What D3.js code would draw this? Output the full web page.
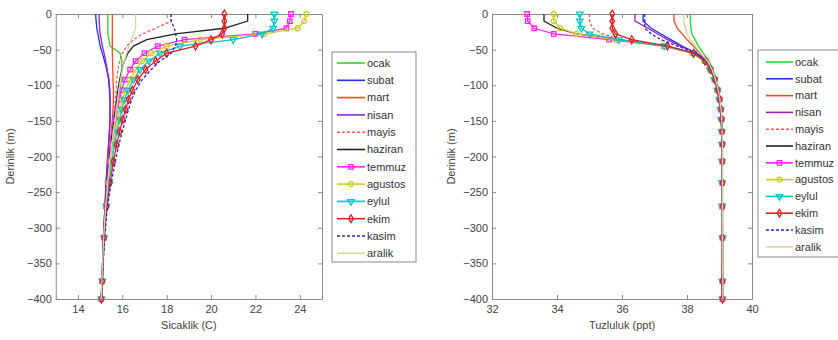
<!DOCTYPE html>
<html>
<head>
<meta charset="utf-8">
<script src="https://cdn.jsdelivr.net/npm/d3@7"></script>
<style>
  body { margin: 0; background: #fff; }
  text { font-family: "Liberation Sans", Arial, sans-serif; }
</style>
</head>
<body>
<div id="chart"></div>
<script>
// month names (legend order)
const months = ["ocak", "subat", "mart", "nisan", "mayis", "haziran", "temmuz", "agustos", "eylul", "ekim", "kasim", "aralik"];

// depth levels (m)
const depths = [0, -10, -20, -28, -36, -45, -55, -66, -78, -92, -107, -120, -134, -148, -165, -183, -207, -237, -270, -314, -375, -400];

// temperature (C) per month, one value per depth level
const tOcak    = [15.35, 15.35, 15.35, 15.35, 15.4, 15.45, 15.9, 15.98, 15.98, 15.95, 15.9, 15.84, 15.78, 15.72, 15.62, 15.52, 15.43, 15.34, 15.26, 15.17, 15.1, 15.06];
const tSubat   = [14.8, 14.82, 14.85, 14.9, 14.95, 15.0, 15.1, 15.2, 15.3, 15.38, 15.42, 15.44, 15.45, 15.45, 15.42, 15.38, 15.33, 15.27, 15.22, 15.15, 15.08, 15.05];
const tMart    = [15.55, 15.55, 15.55, 15.55, 15.55, 15.55, 15.55, 15.56, 15.57, 15.58, 15.6, 15.6, 15.58, 15.55, 15.5, 15.45, 15.38, 15.3, 15.22, 15.15, 15.08, 15.05];
const tNisan   = [14.95, 14.96, 14.98, 15.0, 15.05, 15.1, 15.18, 15.25, 15.32, 15.4, 15.44, 15.45, 15.45, 15.44, 15.42, 15.38, 15.33, 15.27, 15.22, 15.15, 15.08, 15.05];
const tMayis   = [18.2, 18.2, 17.5, 16.9, 16.5, 16.2, 16.0, 15.88, 15.8, 15.75, 15.72, 15.69, 15.65, 15.6, 15.55, 15.48, 15.4, 15.32, 15.24, 15.16, 15.09, 15.05];
const tHaziran = [21.65, 21.65, 20.6, 18.4, 17.1, 16.5, 16.25, 16.1, 15.98, 15.88, 15.8, 15.74, 15.68, 15.62, 15.55, 15.48, 15.4, 15.32, 15.24, 15.16, 15.09, 15.05];
const tTemmuz  = [23.6, 23.55, 23.4, 22.0, 18.8, 17.6, 17.0, 16.6, 16.35, 16.12, 15.97, 15.87, 15.78, 15.7, 15.62, 15.52, 15.43, 15.34, 15.26, 15.17, 15.09, 15.05];
const tAgustos = [24.3, 24.2, 23.9, 22.4, 19.5, 18.0, 17.3, 16.9, 16.6, 16.35, 16.15, 16.0, 15.9, 15.8, 15.7, 15.6, 15.5, 15.38, 15.28, 15.18, 15.1, 15.07];
const tEylul   = [22.85, 22.85, 22.8, 22.3, 21.0, 18.6, 17.7, 17.2, 16.8, 16.5, 16.25, 16.1, 15.98, 15.88, 15.76, 15.65, 15.53, 15.4, 15.28, 15.18, 15.1, 15.06];
const tEkim    = [20.6, 20.6, 20.6, 20.5, 20.0, 19.3, 18.0, 17.5, 17.05, 16.7, 16.45, 16.28, 16.15, 16.02, 15.88, 15.75, 15.6, 15.45, 15.3, 15.18, 15.1, 15.06];
const tKasim   = [18.2, 18.2, 18.35, 18.4, 18.45, 18.4, 18.2, 17.7, 17.3, 16.9, 16.6, 16.42, 16.28, 16.15, 16.0, 15.85, 15.68, 15.5, 15.33, 15.2, 15.1, 15.06];
const tAralik  = [16.6, 16.6, 16.6, 16.5, 16.4, 16.3, 16.2, 16.1, 16.0, 15.92, 15.85, 15.8, 15.74, 15.68, 15.6, 15.52, 15.43, 15.34, 15.25, 15.16, 15.08, 15.05];

// salinity (ppt) per month, one value per depth level
const sOcak    = [38.1, 38.1, 38.12, 38.15, 38.25, 38.35, 38.5, 38.68, 38.8, 38.9, 38.97, 39.02, 39.05, 39.07, 39.08, 39.09, 39.09, 39.09, 39.09, 39.09, 39.1, 39.1];
const sSubat   = [36.65, 36.65, 36.9, 37.2, 37.5, 37.85, 38.3, 38.6, 38.74, 38.86, 38.94, 39.0, 39.04, 39.06, 39.07, 39.08, 39.08, 39.08, 39.09, 39.09, 39.09, 39.09];
const sMart    = [37.6, 37.6, 37.7, 37.85, 38.0, 38.2, 38.4, 38.62, 38.76, 38.87, 38.95, 39.0, 39.04, 39.06, 39.07, 39.08, 39.08, 39.08, 39.09, 39.09, 39.09, 39.09];
const sNisan   = [36.4, 36.4, 36.8, 37.1, 37.4, 37.8, 38.3, 38.58, 38.73, 38.85, 38.94, 39.0, 39.04, 39.06, 39.07, 39.08, 39.08, 39.08, 39.08, 39.09, 39.09, 39.09];
const sMayis   = [35.0, 35.0, 35.1, 35.4, 36.0, 37.3, 38.2, 38.56, 38.72, 38.85, 38.93, 38.99, 39.03, 39.05, 39.07, 39.08, 39.08, 39.08, 39.08, 39.09, 39.09, 39.09];
const sHaziran = [33.6, 33.6, 34.0, 34.6, 35.9, 37.4, 38.2, 38.55, 38.72, 38.85, 38.93, 38.99, 39.03, 39.05, 39.07, 39.08, 39.08, 39.08, 39.08, 39.09, 39.09, 39.09];
const sTemmuz  = [33.08, 33.1, 33.3, 33.9, 35.6, 37.3, 38.2, 38.55, 38.72, 38.85, 38.94, 39.0, 39.04, 39.06, 39.07, 39.08, 39.08, 39.08, 39.08, 39.09, 39.09, 39.09];
const sAgustos = [33.9, 33.9, 34.1, 34.6, 35.8, 37.3, 38.15, 38.53, 38.7, 38.84, 38.93, 38.99, 39.03, 39.05, 39.07, 39.08, 39.08, 39.08, 39.08, 39.09, 39.09, 39.09];
const sEylul   = [34.7, 34.7, 34.75, 35.0, 35.9, 37.3, 38.2, 38.55, 38.71, 38.84, 38.93, 38.99, 39.03, 39.05, 39.07, 39.08, 39.08, 39.08, 39.08, 39.09, 39.09, 39.09];
const sEkim    = [35.7, 35.7, 35.7, 35.8, 36.3, 37.4, 38.2, 38.56, 38.73, 38.86, 38.95, 39.01, 39.05, 39.07, 39.08, 39.09, 39.09, 39.09, 39.09, 39.09, 39.09, 39.09];
const sKasim   = [36.7, 36.7, 36.7, 36.9, 37.2, 37.7, 38.3, 38.6, 38.75, 38.87, 38.95, 39.0, 39.04, 39.06, 39.07, 39.08, 39.08, 39.08, 39.09, 39.09, 39.09, 39.09];
const sAralik  = [37.9, 37.9, 37.95, 38.0, 38.1, 38.25, 38.42, 38.63, 38.77, 38.88, 38.96, 39.01, 39.05, 39.07, 39.08, 39.09, 39.09, 39.09, 39.09, 39.09, 39.1, 39.1];

const temperature = [tOcak, tSubat, tMart, tNisan, tMayis, tHaziran, tTemmuz, tAgustos, tEylul, tEkim, tKasim, tAralik];
const salinity = [sOcak, sSubat, sMart, sNisan, sMayis, sHaziran, sTemmuz, sAgustos, sEylul, sEkim, sKasim, sAralik];

// tick labels
const tempTicks = [14, 16, 18, 20, 22, 24];
const salTicks = [32, 34, 36, 38, 40];
const depthTicks = [0, -50, -100, -150, -200, -250, -300, -350, -400];

// line styles (matlab like)
const styles = [
  {color: "#22dd22", dash: null, marker: null},
  {color: "#2030f0", dash: null, marker: null},
  {color: "#ff4422", dash: null, marker: null},
  {color: "#9a1fd0", dash: null, marker: null},
  {color: "#ff5a5a", dash: "3,2", marker: null},
  {color: "#222222", dash: null, marker: null},
  {color: "#ff22ff", dash: null, marker: "square"},
  {color: "#cccc22", dash: null, marker: "circle"},
  {color: "#11c0c8", dash: null, marker: "triangle"},
  {color: "#e02020", dash: null, marker: "diamond"},
  {color: "#2525e0", dash: "3,2", marker: null},
  {color: "#d6d6a0", dash: null, marker: null}
];

const width = 838, height = 340;
const svg = d3.select("#chart").append("svg")
  .attr("width", width)
  .attr("height", height);

const y = d3.scaleLinear().domain([-400, 0]).range([299, 14]);

function markerPath(kind) {
  if (kind === "square") return d3.symbol(d3.symbolSquare, 20)();
  if (kind === "circle") return d3.symbol(d3.symbolCircle, 20)();
  if (kind === "diamond") return d3.symbol(d3.symbolDiamond, 18)();
  if (kind === "triangle") return d3.symbol(d3.symbolTriangle, 18)();
  return null;
}

function drawPanel(values, xDomain, xRange, xTicks, xLabel, yLabelX, legend) {
  const x = d3.scaleLinear().domain(xDomain).range(xRange);
  const g = svg.append("g");

  // axes, ticks pointing inward
  g.append("g")
    .attr("transform", "translate(0," + y.range()[0] + ")")
    .call(d3.axisBottom(x).tickValues(xTicks).tickSizeInner(-4).tickSizeOuter(0).tickPadding(6));
  g.append("g")
    .attr("transform", "translate(0," + y.range()[1] + ")")
    .call(d3.axisTop(x).tickValues(xTicks).tickSizeInner(-4).tickSizeOuter(0).tickFormat(""));
  g.append("g")
    .attr("transform", "translate(" + xRange[0] + ",0)")
    .call(d3.axisLeft(y).tickValues(depthTicks).tickSizeInner(-4).tickSizeOuter(0).tickPadding(4));
  g.append("g")
    .attr("transform", "translate(" + xRange[1] + ",0)")
    .call(d3.axisRight(y).tickValues(depthTicks).tickSizeInner(-4).tickSizeOuter(0).tickFormat(""));

  g.selectAll(".domain").attr("stroke", "#8a8a8a");
  g.selectAll(".tick line").attr("stroke", "#8a8a8a");
  g.selectAll(".tick text").attr("fill", "#444").style("font-size", "11px")
    .style("font-family", "'Liberation Sans', Arial, sans-serif");

  // lines
  const line = d3.line()
    .x(d => x(d[0]))
    .y(d => y(d[1]));

  values.forEach((vals, i) => {
    const st = styles[i];
    const pts = vals.map((v, k) => [v, depths[k]]);
    g.append("path")
      .datum(pts)
      .attr("fill", "none")
      .attr("stroke", st.color)
      .attr("stroke-width", 1.3)
      .attr("stroke-dasharray", st.dash)
      .attr("d", line);
    if (st.marker) {
      g.selectAll(null)
        .data(pts)
        .join("path")
        .attr("d", markerPath(st.marker))
        .attr("transform", d => "translate(" + x(d[0]) + "," + y(d[1]) + ")" + (st.marker === "triangle" ? " rotate(180)" : ""))
        .attr("fill", "none")
        .attr("stroke", st.color)
        .attr("stroke-width", 1.3);
    }
  });

  // axis labels
  g.append("text")
    .attr("x", (xRange[0] + xRange[1]) / 2)
    .attr("y", 329)
    .attr("text-anchor", "middle")
    .attr("fill", "#444")
    .style("font-size", "11px")
    .text(xLabel);
  g.append("text")
    .attr("transform", "translate(" + yLabelX + "," + (y(-200)) + ") rotate(-90)")
    .attr("text-anchor", "middle")
    .attr("dy", "0.35em")
    .attr("fill", "#444")
    .style("font-size", "11px")
    .text("Derinlik (m)");

  // legend
  const lg = svg.append("g");
  lg.append("rect")
    .attr("x", legend.x).attr("y", legend.y)
    .attr("width", legend.w).attr("height", legend.h)
    .attr("fill", "#fff").attr("stroke", "#8a8a8a");
  months.forEach((m, i) => {
    const st = styles[i];
    const yy = legend.y0 + i * legend.step;
    lg.append("line")
      .attr("x1", legend.l1).attr("x2", legend.l2)
      .attr("y1", yy).attr("y2", yy)
      .attr("stroke", st.color)
      .attr("stroke-width", 1.6)
      .attr("stroke-dasharray", st.dash);
    if (st.marker) {
      lg.append("path")
        .attr("d", markerPath(st.marker))
        .attr("transform", "translate(" + ((legend.l1 + legend.l2) / 2) + "," + yy + ")" + (st.marker === "triangle" ? " rotate(180)" : ""))
        .attr("fill", "none")
        .attr("stroke", st.color)
        .attr("stroke-width", 1.3);
    }
    lg.append("text")
      .attr("x", legend.tx).attr("y", yy)
      .attr("dy", "0.35em")
      .attr("fill", "#333")
      .style("font-size", "11px")
      .text(m);
  });
}

drawPanel(temperature, [13, 25], [55.75, 322], tempTicks, "Sicaklik (C)", 10,
  {x: 332, y: 52, w: 84, h: 210, y0: 63, step: 17.3, l1: 337, l2: 365, tx: 367});
drawPanel(salinity, [32, 40], [492, 752], salTicks, "Tuzluluk (ppt)", 451,
  {x: 758, y: 50, w: 90, h: 207, y0: 62, step: 16.8, l1: 766, l2: 793, tx: 795});
</script>
</body>
</html>
